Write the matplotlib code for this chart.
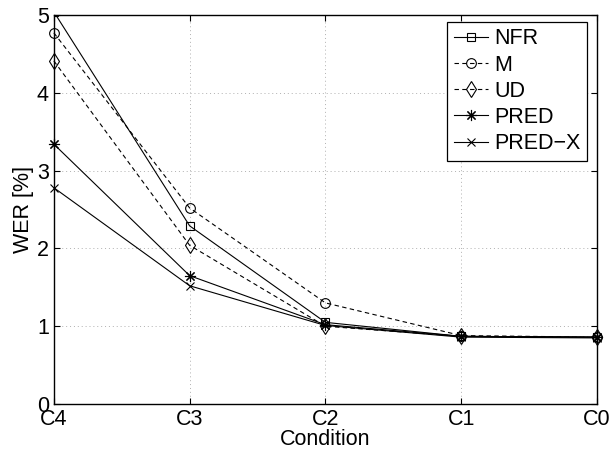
import numpy as np
import matplotlib
matplotlib.use('Agg')
import matplotlib.pyplot as plt

plt.rcParams['font.family'] = ['Liberation Sans', 'DejaVu Sans']

conditions = ['C4', 'C3', 'C2', 'C1', 'C0']
nfr = [5.04, 2.29, 1.05, 0.87, 0.86]
m = [4.77, 2.52, 1.30, 0.88, 0.86]
ud = [4.41, 2.04, 1.00, 0.87, 0.86]
pred = [3.34, 1.65, 1.02, 0.87, 0.86]
pred_x = [2.78, 1.52, 1.01, 0.86, 0.85]

x = np.arange(len(conditions))
fs = 15.5

fig = plt.figure(figsize=(6.12, 4.54), dpi=100)
ax = fig.add_axes([0.088, 0.110, 0.8875, 0.857])

# asterisk marker like MATLAB '*'
ast = (8, 2, 0)

ax.plot(x, nfr, 'k-', marker='s', ms=6, mfc='none', lw=0.8, mew=0.8, label='NFR', clip_on=True)
ax.plot(x, m, 'k--', marker='o', ms=7, mfc='none', lw=0.8, mew=0.8, label='M', clip_on=False,
        dashes=(4, 3))
ax.plot(x, ud, 'k--', marker='d', ms=8, mfc='none', lw=0.8, mew=0.8, label='UD', clip_on=False,
        dashes=(4, 3))
ax.plot(x, pred, 'k-', marker=ast, ms=8, lw=0.8, mew=0.8, label='PRED', clip_on=False)
ax.plot(x, pred_x, 'k-', marker='x', ms=6, lw=0.8, mew=0.8, label='PRED\u2212X', clip_on=False)

ax.set_xlim(0, 4)
ax.set_ylim(0, 5)
ax.set_xticks(x)
ax.set_xticklabels(conditions)
ax.set_yticks([0, 1, 2, 3, 4, 5])
ax.tick_params(direction='in', labelsize=fs, length=4, top=True, right=True, pad=3.5)
ax.grid(True, linestyle=(0, (1, 3)), color='#b0b0b0', lw=0.7)
for s in ax.spines.values():
    s.set_linewidth(1.0)

ax.set_xlabel('Condition', fontsize=fs, labelpad=-1)
ax.set_ylabel('WER [%]', fontsize=fs, labelpad=2)

leg = ax.legend(loc='upper right', fontsize=fs, handlelength=1.6, handletextpad=0.28,
                borderpad=0.3, labelspacing=0.24, fancybox=False, framealpha=1,
                edgecolor='k', borderaxespad=0,
                bbox_to_anchor=(587 / 612, 1 - 22 / 454), bbox_transform=fig.transFigure)
leg.get_frame().set_linewidth(0.9)

fig.savefig('out.png', dpi=100)
